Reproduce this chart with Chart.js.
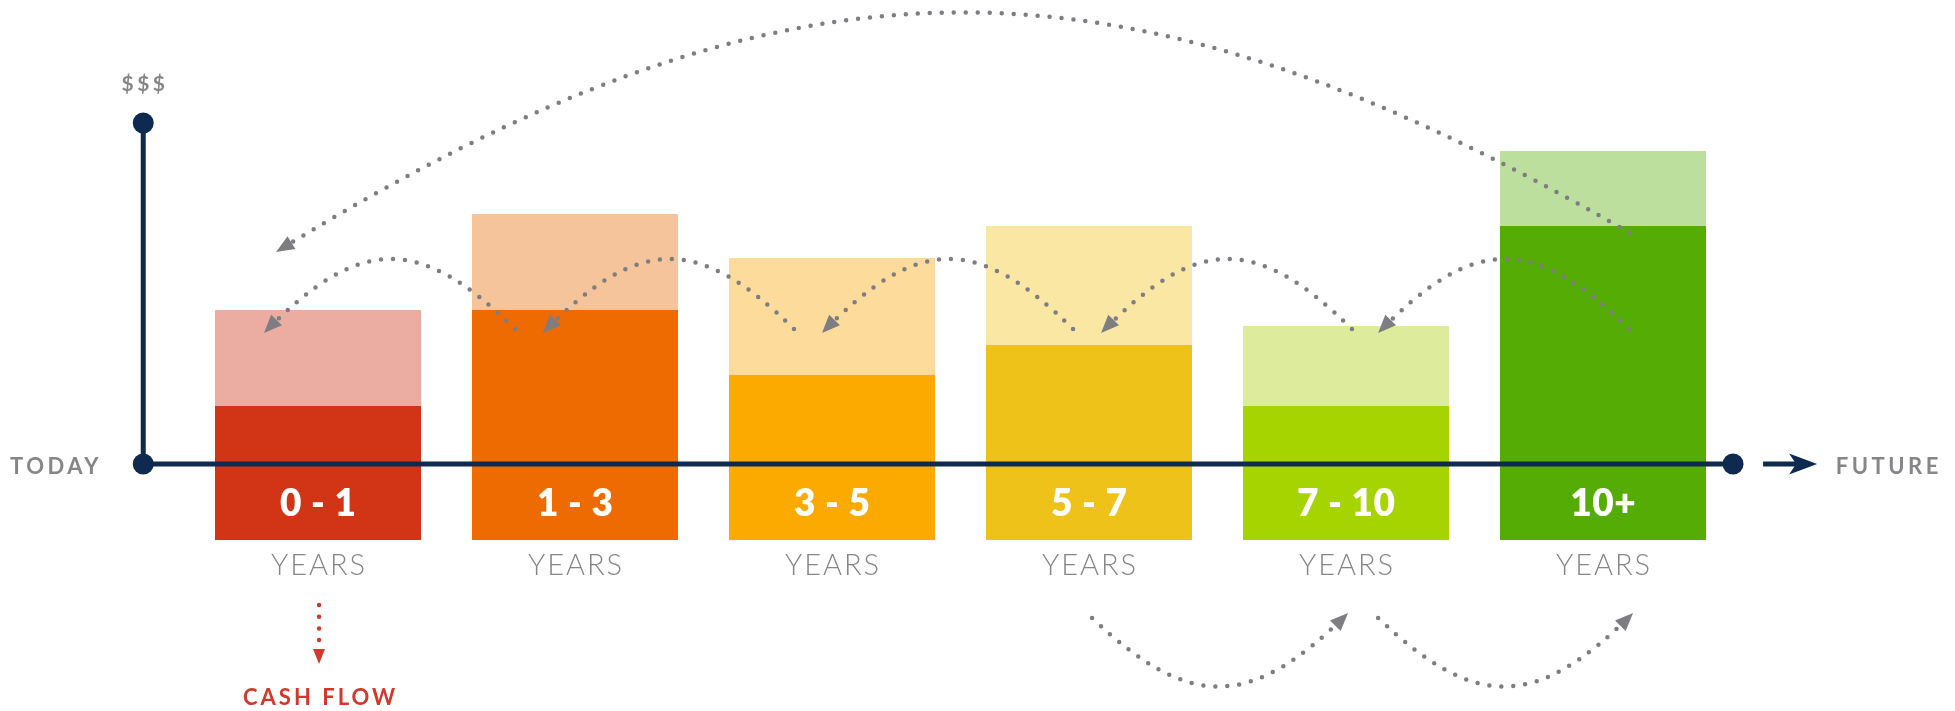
<!DOCTYPE html>
<html>
<head>
<meta charset="utf-8">
<script src="https://cdn.jsdelivr.net/npm/chart.js@4.4.1/dist/chart.umd.min.js"></script>
<style>
    html, body { margin: 0; padding: 0; background: #fff; }
    #wrap { width: 1955px; height: 711px; position: relative; }
</style>
</head>
<body>
<div id="wrap"><canvas id="bucketChart"></canvas></div>
<script>
// 기간 구간
const categories = ['0 - 1', '1 - 3', '3 - 5', '5 - 7', '7 - 10', '10+'];
const unitLabel = 'YEARS';

// 막대 값 (타임라인 = 0)
const barBase = [-7.6, -7.6, -7.6, -7.6, -7.6, -7.6];
const coreValues = [5.8, 15.4, 8.9, 11.9, 5.8, 23.8];
const growthValues = [15.4, 25.0, 20.6, 23.8, 13.8, 31.3];

const coreColors = ['#d23416', '#ee6b01', '#fdaa00', '#efc219', '#a6d400', '#55ac04'];
const growthColors = ['#ebada2', '#f6c49a', '#fddc9b', '#f9e7a3', '#dcec9c', '#bcdf9d'];

// 점선 화살표: [시작 index, 시작 값, 끝 index, 끝 값, 높이]
const hopArcs = [
    [0.767, 13.5, -0.210, 13.1, 7.2],
    [1.852, 13.5, 0.875, 13.1, 7.2],
    [2.938, 13.5, 1.961, 13.1, 7.2],
    [4.023, 13.5, 3.047, 13.1, 7.2],
    [5.101, 13.5, 4.125, 13.1, 7.2],
    [5.105, 23.1, -0.163, 21.2, 23.0],
    [3.012, -15.4, 4.008, -14.9, -7.1],
    [4.125, -15.4, 5.117, -14.9, -7.1]
];

const NAVY = '#0e2a4f';
const DOT_GRAY = '#7d7d82';
const TEXT_GRAY = '#868688';
const CASH_RED = '#d2382b';

// 꾸미기 (타임라인, 점선, 글자)
function dottedArc(ctx, x0, y0, x1, y1, h) {
    const H = h * 4 / 3;
    const dx = x1 - x0;
    const midY = (y0 + y1) / 2;
    const c1x = x0 + dx * 0.38, c1y = midY - H;
    const c2x = x1 - dx * 0.38, c2y = midY - H;

    ctx.save();
    ctx.strokeStyle = DOT_GRAY;
    ctx.lineWidth = 4.5;
    ctx.lineCap = 'round';
    ctx.setLineDash([0, 12]);
    ctx.beginPath();
    ctx.moveTo(x0, y0);
    ctx.bezierCurveTo(c1x, c1y, c2x, c2y, x1, y1);
    ctx.stroke();
    ctx.restore();

    arrowHead(ctx, x1, y1, x1 - c2x, y1 - c2y, 18, 7.5, DOT_GRAY);
}

function arrowHead(ctx, tx, ty, dx, dy, len, half, color) {
    const d = Math.hypot(dx, dy);
    const ux = dx / d, uy = dy / d;
    const bx = tx - ux * len, by = ty - uy * len;
    ctx.fillStyle = color;
    ctx.beginPath();
    ctx.moveTo(tx, ty);
    ctx.lineTo(bx - uy * half, by + ux * half);
    ctx.lineTo(bx + uy * half, by - ux * half);
    ctx.closePath();
    ctx.fill();
}

function spacedText(ctx, text, x, y, font, color, spacing) {
    ctx.font = font;
    ctx.fillStyle = color;
    ctx.letterSpacing = spacing + 'px';
    ctx.textAlign = 'center';
    ctx.textBaseline = 'middle';
    ctx.fillText(text, x + spacing / 2, y);
    ctx.letterSpacing = '0px';
}

const decorPlugin = {
    id: 'decor',
    afterDatasetsDraw(chart) {
        const { ctx, scales: { x, y } } = chart;
        const px = v => x.getPixelForValue(v);
        const py = v => y.getPixelForValue(v);
        const unit = py(0) - py(1);

        ctx.save();

        // 구간 글자
        categories.forEach((label, i) => {
            spacedText(ctx, label, px(i), py(-4.0), '800 37px Lato, "Open Sans", sans-serif', '#ffffff', 0.5);
            spacedText(ctx, unitLabel, px(i), py(-10.2), '300 29px Lato, "Open Sans", sans-serif', TEXT_GRAY, 2);
        });

        // 타임라인
        const axisX = -0.68;
        const axisEnd = 5.506;
        ctx.strokeStyle = NAVY;
        ctx.lineWidth = 5;
        ctx.beginPath();
        ctx.moveTo(px(axisX), py(0));
        ctx.lineTo(px(axisEnd), py(0));
        ctx.moveTo(px(axisX), py(0));
        ctx.lineTo(px(axisX), py(34.1));
        ctx.stroke();

        ctx.fillStyle = NAVY;
        [[axisX, 0], [axisX, 34.1], [axisEnd, 0]].forEach(([a, b]) => {
            ctx.beginPath();
            ctx.arc(px(a), py(b), 10.5, 0, Math.PI * 2);
            ctx.fill();
        });

        // 미래 화살표
        const shaftStart = px(5.623), tipX = px(5.833), ay = py(0);
        ctx.beginPath();
        ctx.moveTo(shaftStart, ay);
        ctx.lineTo(tipX - 20, ay);
        ctx.stroke();
        ctx.beginPath();
        ctx.moveTo(tipX, ay);
        ctx.lineTo(tipX - 28, ay - 10.5);
        ctx.lineTo(tipX - 21, ay);
        ctx.lineTo(tipX - 28, ay + 10.5);
        ctx.closePath();
        ctx.fill();

        // 축 글자
        const capFont = '700 22px Lato, "Open Sans", sans-serif';
        spacedText(ctx, 'TODAY', px(axisX) - 89, py(-0.3), capFont, TEXT_GRAY, 3.5);
        spacedText(ctx, 'FUTURE', px(axisEnd) + 154, py(-0.3), capFont, TEXT_GRAY, 3.5);
        spacedText(ctx, '$$$', px(axisX), py(38.0), '700 21px Lato, "Open Sans", sans-serif', TEXT_GRAY, 3.5);

        // 점선 화살표
        hopArcs.forEach(([a0, v0, a1, v1, h]) => {
            dottedArc(ctx, px(a0), py(v0), px(a1), py(v1), h * unit);
        });

        // 현금 흐름
        const cx = px(0.004);
        ctx.save();
        ctx.strokeStyle = CASH_RED;
        ctx.lineWidth = 4.5;
        ctx.lineCap = 'round';
        ctx.setLineDash([0, 11.7]);
        ctx.beginPath();
        ctx.moveTo(cx, py(-14.1));
        ctx.lineTo(cx, py(-18.2));
        ctx.stroke();
        ctx.restore();
        arrowHead(ctx, cx, py(-20.0), 0, 1, 15, 6, CASH_RED);
        spacedText(ctx, 'CASH FLOW', cx, py(-23.4), '700 22px Lato, "Open Sans", sans-serif', CASH_RED, 3);

        ctx.restore();
    }
};

const ctx = document.getElementById('bucketChart').getContext('2d');
new Chart(ctx, {
    type: 'bar',
    data: {
        labels: categories,
        datasets: [
            {
                label: 'core',
                data: categories.map((_, i) => [barBase[i], coreValues[i]]),
                backgroundColor: coreColors
            },
            {
                label: 'growth',
                data: categories.map((_, i) => [coreValues[i], growthValues[i]]),
                backgroundColor: growthColors
            }
        ]
    },
    options: {
        responsive: true,
        maintainAspectRatio: false,
        animation: false,
        layout: {
            padding: { left: 189.5, right: 223.5, top: 0, bottom: 0 }
        },
        datasets: {
            bar: {
                grouped: false,
                barPercentage: 0.8016,
                categoryPercentage: 1,
                borderWidth: 0
            }
        },
        plugins: {
            legend: { display: false },
            tooltip: { enabled: false }
        },
        scales: {
            x: { type: 'category', display: false, offset: true },
            y: { display: false, min: -24.7, max: 46.4 }
        }
    },
    plugins: [decorPlugin]
});
</script>
</body>
</html>
